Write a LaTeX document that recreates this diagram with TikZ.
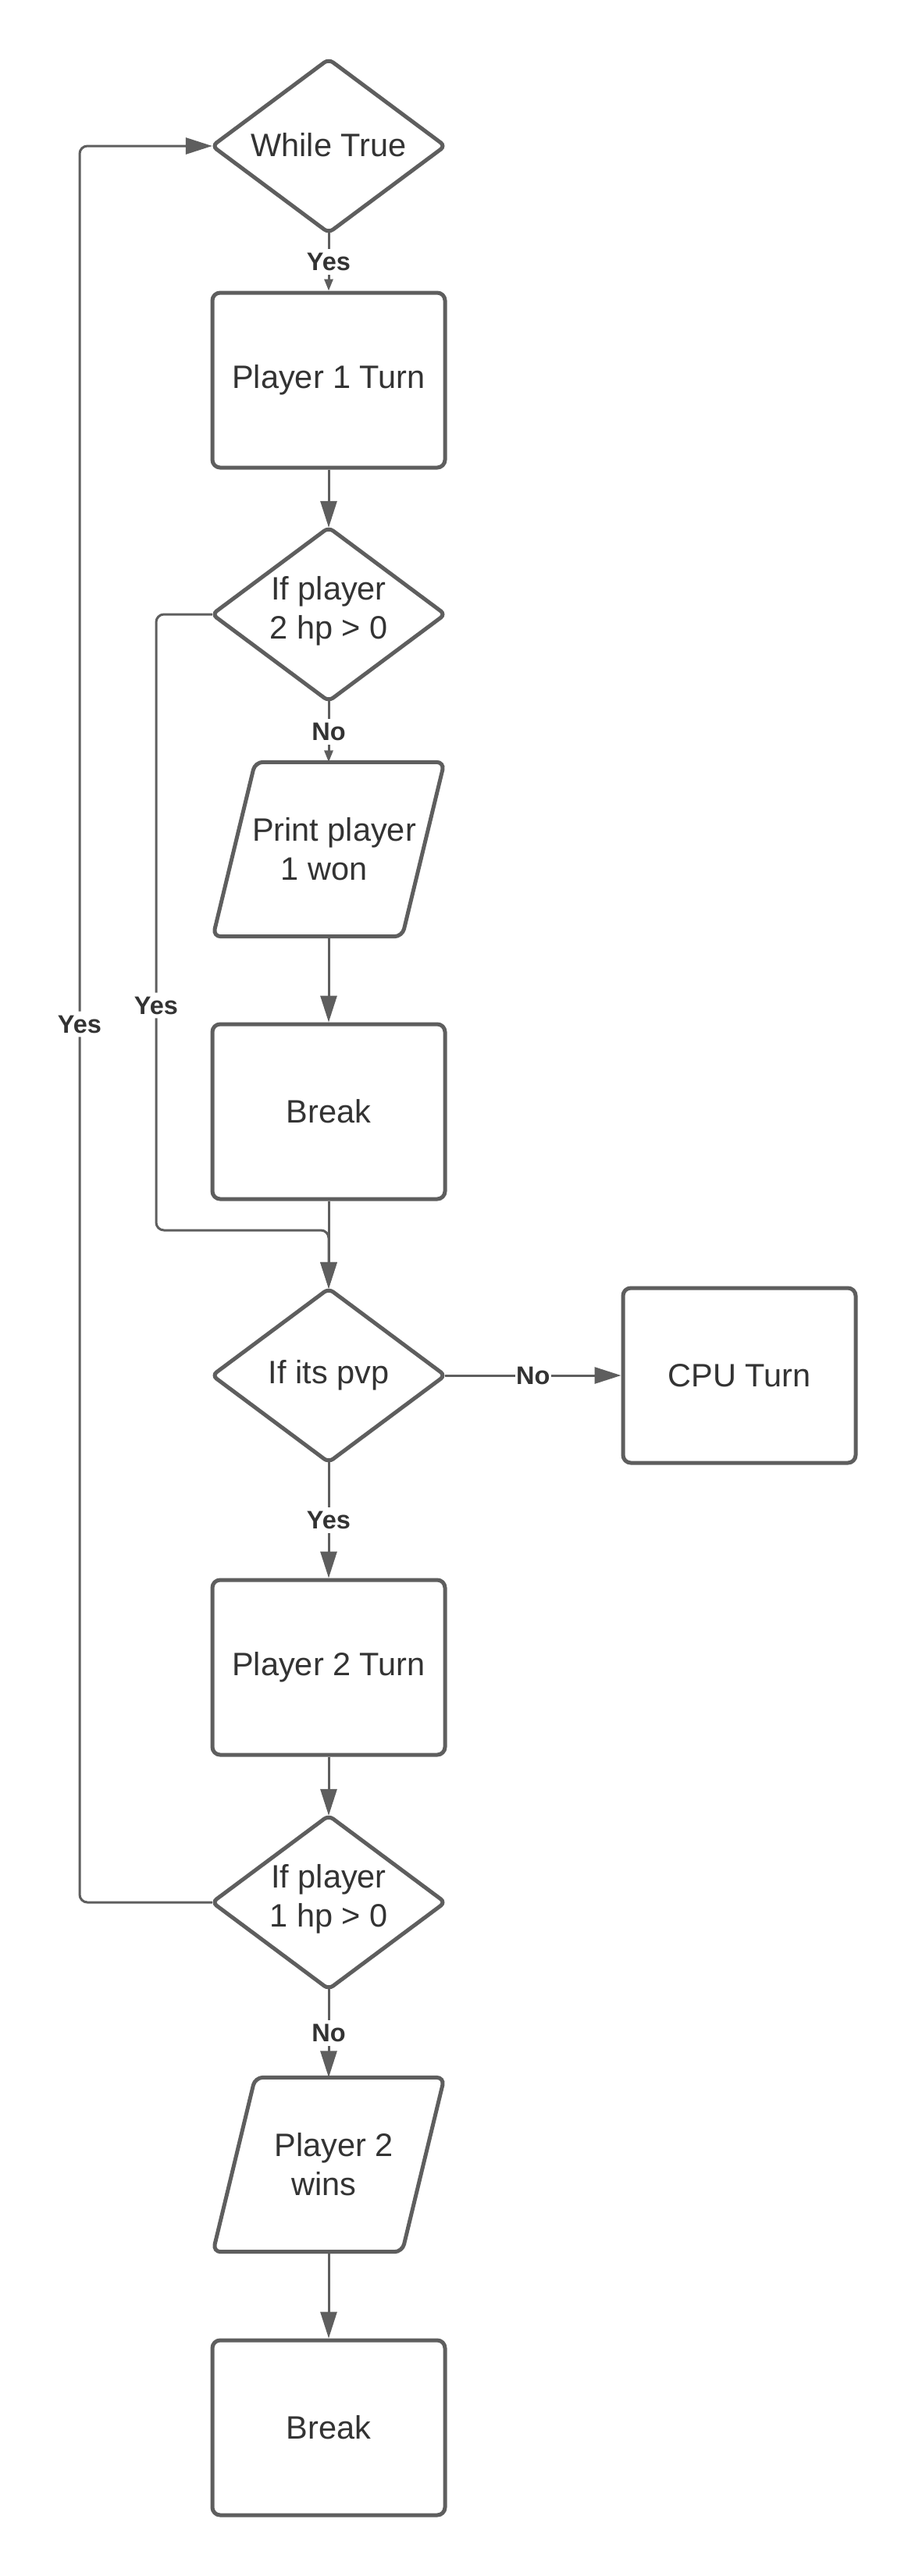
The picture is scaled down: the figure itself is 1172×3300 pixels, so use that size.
\documentclass[tikz,border=0pt]{standalone}
\usepackage{fontspec}
\setmainfont{Liberation Sans}
\usetikzlibrary{arrows.meta}
\definecolor{lc}{HTML}{5E5E5E}
\definecolor{tc}{HTML}{333333}
\newcommand\mainsz{\fontsize{41.5}{50}\selectfont}
\newcommand\lblsz{\fontsize{32.5}{38}\selectfont\bfseries}
\newcommand\drawdia[1]{\draw[shapeline,rounded corners=7pt] (#1.north) -- (#1.east) -- (#1.south) -- (#1.west) -- cycle;}
\newcommand\drawpara[1]{\draw[shapeline] ([xshift=27pt]#1.north west) -- ([xshift=27pt]#1.north east) -- ([xshift=-27pt]#1.south east) -- ([xshift=-27pt]#1.south west) -- cycle;}
\tikzset{
  shapeline/.style={draw=lc, line width=5pt, rounded corners=10pt},
  procbox/.style={shapeline, minimum width=298pt, minimum height=224pt, inner sep=0pt, font=\mainsz, text=tc, align=center},
  dianode/.style={minimum width=298pt, minimum height=222pt, inner sep=0pt, font=\mainsz, text=tc, align=center},
  paranode/.style={minimum width=242pt, minimum height=223pt, inner sep=0pt, font=\mainsz, text=tc, align=center},
  conn/.style={draw=lc, line width=3pt},
  bigtip/.style={-{Triangle[length=34pt,width=21pt]}},
  smalltip/.style={-{Triangle[length=15pt,width=11pt]}},
  lbl/.style={fill=white, font=\lblsz, text=tc, inner xsep=3pt, inner ysep=5pt},
}
\begin{document}
\begin{tikzpicture}[x=1pt,y=-1pt]
\fill[white] (0,0) rectangle (1172,3300);
\useasboundingbox (0,0) rectangle (1172,3300);

\node[dianode] (d1) at (421,187) {\raisebox{4pt}{While True}};
\drawdia{d1}
\node[procbox] (b1) at (421,487) {Player 1 Turn};
\node[dianode] (d2) at (421,787) {If player\\2 hp > 0\rule{0pt}{0pt}\vspace{8pt}};
\drawdia{d2}
\node[paranode] (p1) at (421,1088) {\hspace*{14pt}Print player\\1 won\hspace*{12pt}};
\drawpara{p1}
\node[procbox] (b2) at (421,1424) {Break};
\node[dianode] (d3) at (421,1762) {\raisebox{4pt}{If its pvp}};
\drawdia{d3}
\node[procbox] (cpu) at (947,1762) {CPU Turn};
\node[procbox] (b3) at (421,2136) {Player 2 Turn};
\node[dianode] (d4) at (421,2437) {If player\\1 hp > 0\vspace{8pt}};
\drawdia{d4}
\node[paranode] (p2) at (421,2773) {\hspace*{14pt}Player 2\\wins\hspace*{12pt}};
\drawpara{p2}
\node[procbox] (b4) at (421,3110) {Break};

\draw[conn,smalltip] (d1.south) -- node[lbl]{Yes} (b1.north);
\draw[conn,bigtip] (b1.south) -- (d2.north);
\draw[conn,smalltip] (d2.south) -- node[lbl]{No} (p1.north);
\draw[conn,bigtip] (p1.south) -- (b2.north);
\draw[conn,bigtip] (b2.south) -- (d3.north);
\draw[conn,bigtip,rounded corners=10pt] (d2.west) -- (200,787) -- node[lbl,pos=0.635]{Yes} (200,1576) -- (421,1576) -- (d3.north);
\draw[conn,bigtip] (d3.east) -- node[lbl,inner xsep=1pt,inner ysep=2pt]{No} (cpu.west);
\draw[conn,bigtip] (d3.south) -- node[lbl]{Yes} (b3.north);
\draw[conn,bigtip] (b3.south) -- (d4.north);
\draw[conn,bigtip,rounded corners=10pt] (d4.west) -- (102,2437) -- node[lbl,pos=0.5]{Yes} (102,187) -- (d1.west);
\draw[conn,bigtip] (d4.south) -- node[lbl]{No} (p2.north);
\draw[conn,bigtip] (p2.south) -- (b4.north);
\end{tikzpicture}
\end{document}
